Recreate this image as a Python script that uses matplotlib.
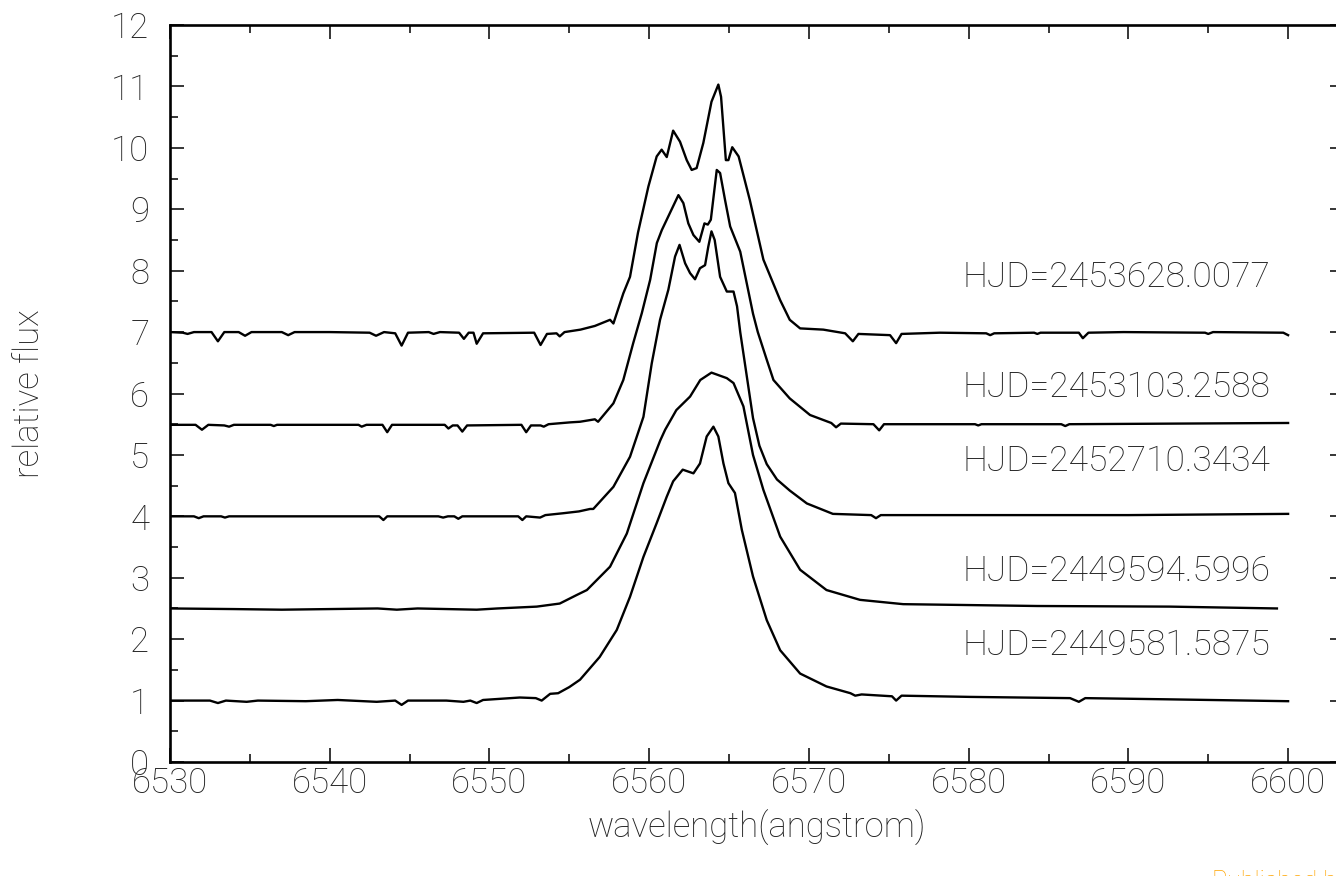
import matplotlib
matplotlib.use('Agg')
import matplotlib.pyplot as plt
from matplotlib.ticker import MultipleLocator

# spectra (wavelength in angstrom, relative flux incl. offset)
wl1 = [6530.0, 6530.8, 6531.1, 6531.5, 6532.6, 6533.0, 6533.4, 6534.3, 6534.7, 6535.1,
       6537.0, 6537.4, 6537.8, 6540.0, 6542.5, 6542.9, 6543.4, 6544.1, 6544.5, 6544.9,
       6546.2, 6546.5, 6546.9, 6548.1, 6548.4, 6548.7, 6549.0, 6549.2, 6549.6, 6552.8,
       6553.2, 6553.6, 6554.2, 6554.4, 6554.7, 6555.7, 6556.6, 6557.55, 6557.76, 6558.38,
       6558.8, 6559.3, 6559.95, 6560.47, 6560.78, 6561.1, 6561.5, 6561.93, 6562.35, 6562.66,
       6562.97, 6563.39, 6563.9, 6564.33, 6564.5, 6564.8, 6564.96, 6565.2, 6565.6, 6566.3,
       6567.15, 6568.2, 6568.8, 6569.45, 6570.9, 6572.27, 6572.75, 6573.1, 6575.08, 6575.46,
       6575.8, 6578.2, 6581.1, 6581.35, 6581.6, 6584.1, 6584.3, 6584.5, 6586.9, 6587.15,
       6587.5, 6589.7, 6594.8, 6595.0, 6595.3, 6599.7, 6600.0]
fx1 = [7.00, 6.99, 6.97, 7.00, 7.00, 6.85, 7.00, 7.00, 6.94, 7.00,
       7.00, 6.95, 7.00, 7.00, 6.99, 6.94, 7.00, 6.98, 6.78, 6.99,
       7.00, 6.97, 7.00, 6.99, 6.89, 6.99, 6.99, 6.81, 6.98, 6.99,
       6.79, 6.97, 6.98, 6.93, 7.00, 7.04, 7.10, 7.20, 7.14, 7.63,
       7.90, 8.62, 9.37, 9.86, 9.97, 9.85, 10.28, 10.10, 9.80, 9.64,
       9.67, 10.08, 10.75, 11.03, 10.83, 9.80, 9.80, 10.01, 9.86, 9.15,
       8.18, 7.52, 7.20, 7.06, 7.04, 6.98, 6.85, 6.97, 6.95, 6.82,
       6.97, 6.99, 6.98, 6.95, 6.98, 6.99, 6.97, 6.99, 6.99, 6.90,
       6.99, 7.00, 6.99, 6.97, 7.00, 6.99, 6.95]

wl2 = [6530.0, 6531.6, 6532.0, 6532.4, 6533.4, 6533.7, 6534.0, 6536.3, 6536.5, 6536.7,
       6541.8, 6542.0, 6542.3, 6543.3, 6543.6, 6543.9, 6547.2, 6547.43, 6547.7, 6548.0,
       6548.3, 6548.6, 6552.0, 6552.3, 6552.6, 6553.2, 6553.4, 6553.7, 6555.05, 6555.67,
       6556.6, 6556.8, 6557.76, 6558.38, 6559.0, 6559.54, 6560.06, 6560.48, 6560.79, 6561.3,
       6561.83, 6562.14, 6562.45, 6562.77, 6563.14, 6563.46, 6563.67, 6563.86, 6564.23, 6564.44,
       6564.75, 6565.07, 6565.7, 6566.5, 6566.8, 6567.36, 6567.78, 6568.8, 6570.07, 6571.4,
       6571.7, 6572.0, 6574.04, 6574.4, 6574.7, 6580.4, 6580.6, 6580.8, 6585.8, 6586.05,
       6586.3, 6593.0, 6600.0]
fx2 = [5.49, 5.49, 5.41, 5.49, 5.48, 5.46, 5.49, 5.49, 5.47, 5.49,
       5.49, 5.46, 5.49, 5.49, 5.37, 5.49, 5.49, 5.43, 5.48, 5.48,
       5.38, 5.48, 5.49, 5.37, 5.48, 5.48, 5.46, 5.50, 5.53, 5.54,
       5.58, 5.54, 5.84, 6.22, 6.82, 7.31, 7.85, 8.45, 8.66, 8.94,
       9.23, 9.10, 8.77, 8.58, 8.47, 8.77, 8.75, 8.83, 9.64, 9.59,
       9.15, 8.72, 8.31, 7.30, 7.00, 6.55, 6.22, 5.92, 5.65, 5.52,
       5.45, 5.51, 5.50, 5.40, 5.50, 5.50, 5.48, 5.50, 5.50, 5.47,
       5.50, 5.51, 5.52]

wl3 = [6530.0, 6531.5, 6531.8, 6532.1, 6533.2, 6533.44, 6533.7, 6537.0, 6540.0, 6543.1,
       6543.36, 6543.6, 6546.8, 6547.1, 6547.4, 6547.8, 6548.05, 6548.3, 6551.8, 6552.06,
       6552.3, 6553.17, 6553.5, 6554.6, 6555.6, 6556.3, 6556.5, 6557.76, 6558.8, 6559.64,
       6560.16, 6560.68, 6561.2, 6561.62, 6561.9, 6562.25, 6562.56, 6562.87, 6563.18, 6563.5,
       6563.7, 6563.9, 6564.1, 6564.44, 6564.86, 6565.28, 6565.5, 6565.7, 6566.1, 6566.5,
       6566.9, 6567.36, 6568.0, 6568.8, 6569.87, 6571.5, 6573.9, 6574.2, 6574.5, 6580.0,
       6590.0, 6600.0]
fx3 = [4.00, 4.00, 3.97, 4.00, 4.00, 3.98, 4.00, 4.00, 4.00, 4.00,
       3.94, 4.00, 4.00, 3.98, 4.00, 4.00, 3.96, 4.00, 4.00, 3.94,
       4.00, 3.98, 4.02, 4.05, 4.08, 4.12, 4.12, 4.48, 4.97, 5.62,
       6.49, 7.20, 7.69, 8.23, 8.42, 8.12, 7.96, 7.86, 8.04, 8.09,
       8.39, 8.64, 8.50, 7.90, 7.66, 7.66, 7.42, 7.00, 6.30, 5.60,
       5.15, 4.85, 4.60, 4.42, 4.21, 4.04, 4.02, 3.97, 4.02, 4.02,
       4.02, 4.04]

wl4 = [6530.0, 6534.0, 6537.0, 6543.0, 6544.2, 6545.5, 6549.2, 6550.5, 6552.96, 6554.4,
       6555.47, 6556.1, 6557.55, 6558.6, 6559.64, 6560.7, 6561.0, 6561.7, 6562.56, 6563.2,
       6563.9, 6564.86, 6565.28, 6565.9, 6566.5, 6567.15, 6568.2, 6569.45, 6571.1, 6573.2,
       6575.9, 6584.3, 6592.6, 6599.3]
fx4 = [2.50, 2.49, 2.48, 2.50, 2.48, 2.50, 2.48, 2.50, 2.53, 2.58,
       2.72, 2.80, 3.18, 3.72, 4.54, 5.24, 5.41, 5.73, 5.95, 6.22,
       6.34, 6.25, 6.17, 5.79, 5.00, 4.43, 3.67, 3.13, 2.80, 2.64,
       2.57, 2.54, 2.53, 2.50]

wl5 = [6530.0, 6532.5, 6533.0, 6533.5, 6534.8, 6535.5, 6538.5, 6540.5, 6542.94, 6544.1,
       6544.5, 6544.9, 6547.3, 6548.37, 6548.8, 6549.2, 6549.6, 6551.9, 6552.9, 6553.27,
       6553.8, 6554.3, 6555.0, 6555.67, 6556.9, 6557.97, 6558.8, 6559.64, 6560.47, 6561.1,
       6561.5, 6562.1, 6562.77, 6563.18, 6563.6, 6564.02, 6564.33, 6564.65, 6564.96, 6565.37,
       6565.8, 6566.5, 6567.36, 6568.2, 6569.45, 6571.1, 6572.6, 6572.9, 6573.3, 6575.2,
       6575.46, 6575.8, 6580.1, 6586.35, 6586.9, 6587.3, 6592.6, 6600.0]
fx5 = [1.00, 1.00, 0.96, 1.00, 0.98, 1.00, 0.99, 1.01, 0.98, 1.00,
       0.93, 1.00, 1.00, 0.98, 1.00, 0.96, 1.01, 1.05, 1.04, 1.00,
       1.11, 1.12, 1.22, 1.34, 1.71, 2.15, 2.69, 3.34, 3.89, 4.32,
       4.57, 4.76, 4.70, 4.86, 5.30, 5.46, 5.30, 4.86, 4.54, 4.38,
       3.78, 3.02, 2.31, 1.82, 1.44, 1.23, 1.12, 1.08, 1.10, 1.07,
       1.00, 1.08, 1.06, 1.04, 0.98, 1.04, 1.02, 0.99]

labels = ["HJD=2453628.0077", "HJD=2453103.2588", "HJD=2452710.3434",
          "HJD=2449594.5996", "HJD=2449581.5875"]
label_y = [7.74, 5.94, 4.74, 2.94, 1.74]

plt.rcParams['font.family'] = ['Roboto', 'DejaVu Sans']
plt.rcParams['font.weight'] = 'light'

fig = plt.figure(figsize=(13.36, 8.76), dpi=100)
ax = fig.add_axes([170/1336, 1 - 762/876, 1174/1336, 737/876])

for wl, fx in [(wl1, fx1), (wl2, fx2), (wl3, fx3), (wl4, fx4), (wl5, fx5)]:
    ax.plot(wl, fx, color='black', lw=1.7, solid_joinstyle='round')

for txt, yy in zip(labels, label_y):
    ax.text(6598.9, yy, txt, ha='right', va='baseline', fontsize=25.5,
            fontweight='light', color='#222222')

ax.set_xlim(6530, 6603.5)
ax.set_ylim(0, 12)
ax.xaxis.set_major_locator(MultipleLocator(10))
ax.xaxis.set_minor_locator(MultipleLocator(5))
ax.yaxis.set_major_locator(MultipleLocator(1))
ax.yaxis.set_minor_locator(MultipleLocator(0.5))
ax.tick_params(which='both', direction='in', top=True, right=True, width=1.1, colors='black')
ax.tick_params(which='major', length=10)
ax.tick_params(which='minor', length=5.5)
ax.tick_params(axis='x', which='major', pad=3, labelsize=25, labelcolor='#222222')
ax.tick_params(axis='y', which='major', pad=15, labelsize=25, labelcolor='#222222')
for s in ax.spines.values():
    s.set_linewidth(1.9)

ax.set_xlabel("wavelength(angstrom)", fontsize=25, fontweight='light', color='#222222')
ax.set_ylabel("relative flux", fontsize=25, fontweight='light', color='#222222')
ax.xaxis.set_label_coords((757 - 170) / 1174, -(810 - 762) / 737)
ax.yaxis.set_label_coords(-(170 - 46) / 1174, 0.5)

fig.text(1212/1336, 1 - 870/876, "Published by", color='#FFA500', fontsize=18,
         ha='left', va='top')

fig.savefig("out.png", dpi=100)
